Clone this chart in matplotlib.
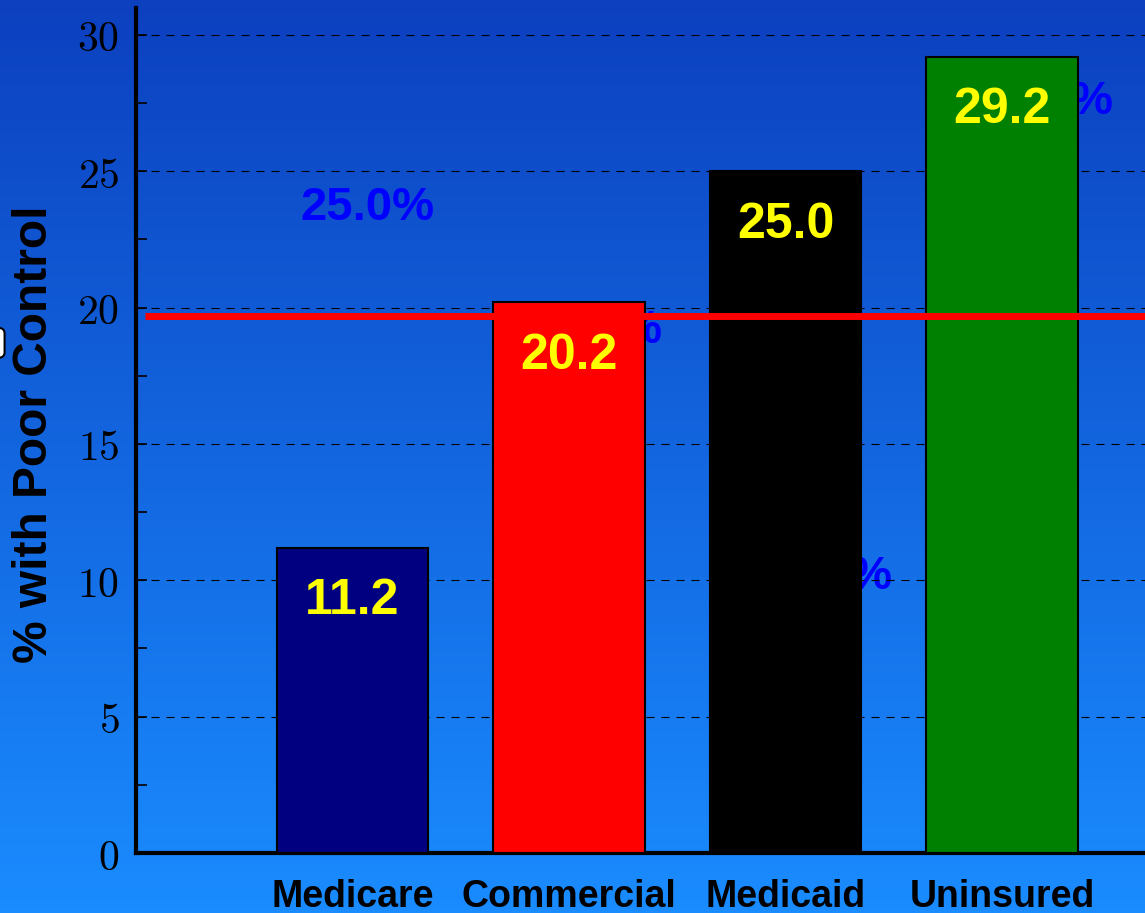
import numpy as np
import matplotlib
matplotlib.use("Agg")
import matplotlib.pyplot as plt
from matplotlib.patches import FancyBboxPatch
from matplotlib.ticker import MultipleLocator, FuncFormatter

# data
categories = ["Medicare", "Commercial", "Medicaid", "Uninsured"]
poor_control = [11.2, 20.2, 25.0, 29.2]
bar_colors = ["#000080", "#FF0000", "#000000", "#008000"]
reference_level = 19.7

# leftover blue percent labels sitting behind the bars
old_text = ["25.0%", "%", "%", "%"]
old_x = [1.07, 2.43, 3.49, 4.51]
old_y = [23.2, 18.7, 9.7, 27.1]
old_ha = ["center", "right", "right", "right"]

plt.rcParams["mathtext.fontset"] = "cm"
plt.rcParams["lines.scale_dashes"] = False

fig = plt.figure(figsize=(11.45, 9.13), dpi=100)

# background gradient, dark blue at top to light blue at bottom
bg = fig.add_axes([0, 0, 1, 1], zorder=-10)
top = np.array([12, 64, 191]) / 255
bottom = np.array([26, 140, 255]) / 255
t = np.linspace(0, 1, 256)[:, None]
grad = top[None, :] * (1 - t) + bottom[None, :] * t
bg.imshow(grad[:, None, :], aspect="auto", extent=[0, 1, 0, 1])
bg.set_axis_off()

ax = fig.add_axes([136 / 1145, 60 / 913, 1 - 136 / 1145, 845.3 / 913])
ax.set_facecolor("none")
ax.set_xlim(0, 4.66)
ax.set_ylim(0, 31.0)

x = np.arange(1, len(categories) + 1)

for xi, yi, s, ha in zip(old_x, old_y, old_text, old_ha):
    ax.text(xi, yi, s, color="#0000FF", fontsize=34, fontweight="bold",
            family="Liberation Sans", ha=ha, va="baseline", zorder=1)

ax.bar(x, poor_control, width=0.70, color=bar_colors, edgecolor="black",
       linewidth=1.5, zorder=3)

for xi, v in zip(x, poor_control):
    ax.annotate(f"{v:.1f}", (xi, v), xytext=(0, -48), textcoords="offset points",
                ha="center", va="baseline", color="#FFFF00", fontsize=36,
                fontweight="bold", family="Liberation Sans", zorder=4)

ax.plot([0.04, 4.66], [reference_level, reference_level], color="#FF0000",
        linewidth=5, solid_capstyle="butt", zorder=5)

# axes styling
ax.spines["top"].set_visible(False)
ax.spines["right"].set_visible(False)
ax.spines["left"].set_linewidth(3)
ax.spines["bottom"].set_linewidth(3)
ax.yaxis.set_major_locator(MultipleLocator(5))
ax.yaxis.set_minor_locator(MultipleLocator(2.5))
ax.yaxis.set_major_formatter(FuncFormatter(lambda v, p: f"${v:g}$"))
ax.tick_params(axis="y", which="both", direction="in", length=8, width=1.2,
               labelsize=30, pad=12)
ax.yaxis.grid(True, which="major", color="black", linewidth=0.8,
              linestyle=(0, (5.8, 5)), zorder=2)
ax.set_axisbelow(False)
for gl in ax.get_ygridlines():
    gl.set_zorder(2)

ax.set_xticks(x)
ax.set_xticklabels(categories, fontsize=27, fontweight="bold",
                   family="Liberation Sans")
ax.tick_params(axis="x", length=0, pad=19)

fig.text(35 / 1145, 1 - 434 / 913, "% with Poor Control", rotation=90,
         ha="center", va="center", fontsize=34.5, fontweight="bold",
         family="Liberation Sans", color="black")

# clipped white callout at the left edge
fig.patches.append(FancyBboxPatch((-0.02, 0.608), 0.024, 0.033,
                                  boxstyle="round,pad=0,rounding_size=0.006",
                                  transform=fig.transFigure, facecolor="white",
                                  edgecolor="black", linewidth=1.5, figure=fig))

fig.savefig("out.png", dpi=100)
